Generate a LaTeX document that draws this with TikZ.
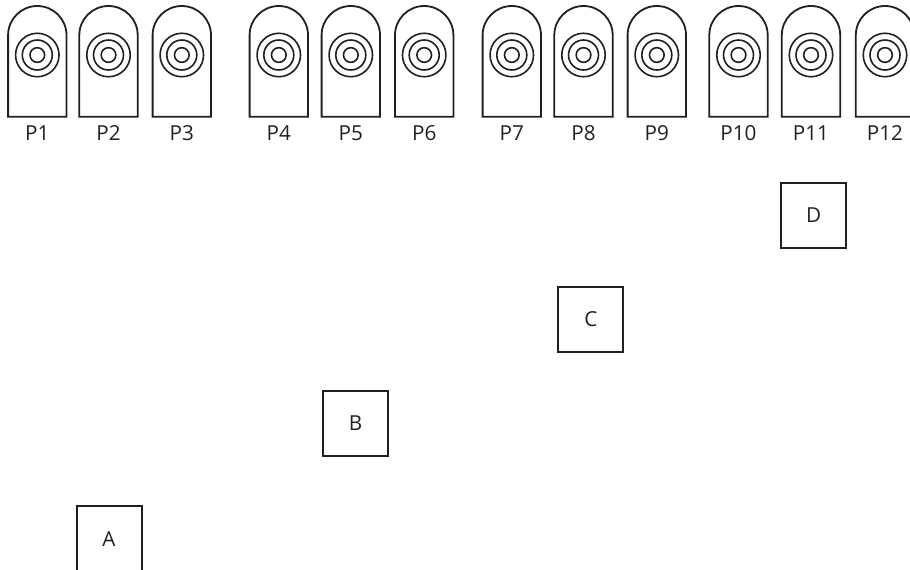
\documentclass[tikz,border=0pt]{standalone}
\usepackage{fontspec}
\setmainfont{Open Sans}
\usepackage{tikz}
\usetikzlibrary{positioning}
\usepackage{xcolor}
\definecolor{inkgray}{RGB}{35,31,32}

\tikzset{
  padline/.style={draw=inkgray, line width=1.35pt},
  ringline/.style={draw=inkgray, line width=1.2pt},
  padlabel/.style={text=inkgray, font=\fontsize{15.5}{17}\selectfont, inner sep=0pt},
  tagbox/.style={draw=inkgray, line width=1.5pt, minimum size=48.75pt, inner sep=0pt,
                 text=inkgray, font=\fontsize{15.5}{17}\selectfont}
}

\begin{document}
\begin{tikzpicture}[x=0.75pt, y=-0.75pt]
    % page frame
    \clip (0,0) rectangle (910,569);

    % Pads: rounded top, three rings, name below
    \foreach \cx/\name [count=\i] in {37.3/P1, 108.5/P2, 181.8/P3,
                                      278.8/P4, 350.8/P5, 424.2/P6,
                                      511.8/P7, 583.5/P8, 656.8/P9,
                                      738.5/P10, 811/P11, 885/P12}
    {
        \draw[padline] (\cx-29.2,116.7) -- (\cx-29.2,35.2)
            arc[start angle=180, end angle=0, radius=21.9pt]
            -- (\cx+29.2,116.7) -- cycle;
        \draw[ringline] (\cx,55) circle (16.3pt);
        \draw[ringline] (\cx,55) circle (11.25pt);
        \draw[ringline] (\cx,55) circle (5.5pt);
        \node[padlabel] (pad\i) at (\cx,133.5) {\name};
    }

    % Boxes
    \node[tagbox] (A) at (109,538.7) {A};
    \node[tagbox] (B) at (355.5,423.5) {B};
    \node[tagbox] (C) at (590.8,319.2) {C};
    \node[tagbox] (D) at (813.7,215.2) {D};
\end{tikzpicture}
\end{document}
